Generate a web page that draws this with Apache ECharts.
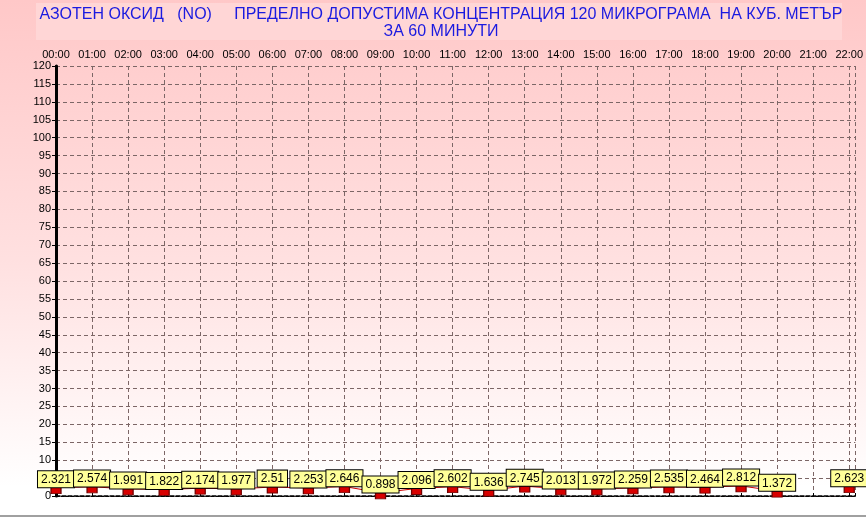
<!DOCTYPE html>
<html><head><meta charset="utf-8">
<script src="https://cdn.jsdelivr.net/npm/echarts@6/dist/echarts.min.js"></script>
<style>html,body{margin:0;padding:0;}#c{width:866px;height:518px;}</style>
</head><body><div id="c"></div>
<script>
const hours = [0,1,2,3,4,5,6,7,8,9,10,11,12,13,14,15,16,17,18,19,20,21,22];
const hourLabels = ['00:00','01:00','02:00','03:00','04:00','05:00','06:00','07:00','08:00','09:00','10:00','11:00','12:00','13:00','14:00','15:00','16:00','17:00','18:00','19:00','20:00','21:00','22:00'];
const noValues = [2.321,2.574,1.991,1.822,2.174,1.977,2.51,2.253,2.646,0.898,2.096,2.602,1.636,2.745,2.013,1.972,2.259,2.535,2.464,2.812,1.372,null,2.623];
const titleLines = ['АЗОТЕН ОКСИД   (NO)     ПРЕДЕЛНО ДОПУСТИМА КОНЦЕНТРАЦИЯ 120 МИКРОГРАМА  НА КУБ. МЕТЪР', 'ЗА 60 МИНУТИ'];

const chart = echarts.init(document.getElementById('c'));
const seriesData = hours.map((h,i)=>[h, noValues[i]==null ? '-' : noValues[i]]);
const font = 'Liberation Sans, Arial, sans-serif';
chart.setOption({
  animation:false,
  backgroundColor:{type:'linear',x:0,y:0,x2:0,y2:1,colorStops:[
    {offset:0,color:'#ffc8c8'},{offset:0.5,color:'#ffe0e0'},{offset:0.94,color:'#ffffff'},{offset:1,color:'#ffffff'}]},
  title:{
    text: titleLines.join('\n'),
    left: 441, top: 6, textAlign:'center',
    padding:0,
    textStyle:{color:'#1a1ae0',fontFamily:font,fontSize:16,fontWeight:'normal',lineHeight:17,align:'center'}
  },
  grid:{left:56,right:9,top:66,bottom:22},
  xAxis:[{
    type:'value', position:'top', min:0, max:22.17, interval:1,
    axisLine:{show:true,lineStyle:{color:'#000',width:1.5,type:[4,2]}},
    axisTick:{show:true,inside:false,length:3,lineStyle:{color:'#000'}},
    axisLabel:{color:'#000',fontFamily:font,fontSize:11,margin:6,
      formatter:v=>{const i=hours.indexOf(v);return i>=0?hourLabels[i]:'';}},
    splitLine:{show:true,lineStyle:{color:'#7c6666',type:[4,3],width:1}}
  },{
    type:'value', position:'bottom', min:0, max:22.17, interval:1,
    axisLine:{show:true,lineStyle:{color:'#000',width:1,type:[3,2]}},
    axisTick:{show:false},axisLabel:{show:false},splitLine:{show:false}
  }],
  yAxis:[{
    type:'value', min:0, max:120, interval:5,
    axisLine:{show:true,lineStyle:{color:'#000',width:3}},
    axisTick:{show:true,inside:false,length:4,lineStyle:{color:'#000'}},
    axisLabel:{color:'#000',fontFamily:font,fontSize:11,margin:5},
    splitLine:{show:true,lineStyle:{color:'#7c6666',type:[4,3],width:1}}
  },{
    type:'value', position:'right', min:0, max:120, interval:5,
    axisLine:{show:true,lineStyle:{color:'#000',width:2}},
    axisTick:{show:false},axisLabel:{show:false},splitLine:{show:false}
  }],
  graphic:[
    {type:'rect',z:-1,shape:{x:36,y:3,width:806,height:37},style:{fill:'#ffd6d6'}},
    {type:'line',shape:{x1:0,y1:516,x2:866,y2:516},style:{stroke:'#a0a0a0',lineWidth:2}}
  ],
  series:[{
    type:'line', data:seriesData, connectNulls:false,
    lineStyle:{color:'#d00000',width:1},
    symbol:'rect', symbolSize:[10,6], symbolOffset:[0,3],
    itemStyle:{color:'#d80000',borderColor:'#700000',borderWidth:1},
    label:{show:true,position:'top',distance:0,
      formatter:p=>String(p.value[1]),
      backgroundColor:'#ffff99',borderColor:'#000',borderWidth:1,
      padding:[2,3,1,3],color:'#000',fontFamily:font,fontSize:12,lineHeight:13},
    z:5
  }]
});
</script></body></html>
